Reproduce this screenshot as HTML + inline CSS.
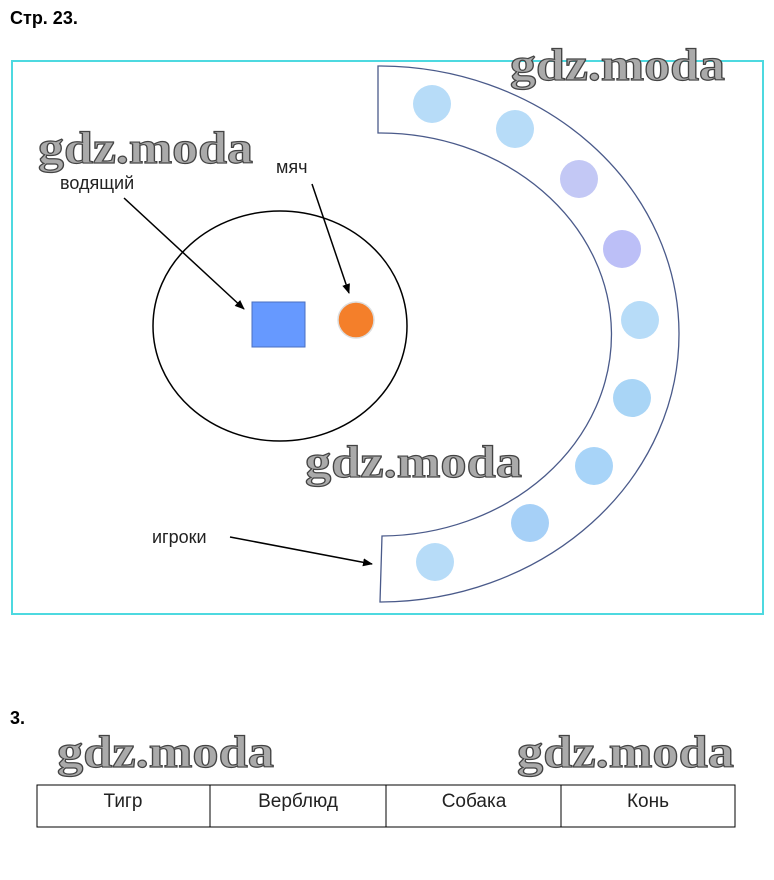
<!DOCTYPE html>
<html><head><meta charset="utf-8"><style>
body{margin:0;background:#fff;width:774px;height:875px;overflow:hidden;font-family:"Liberation Sans",sans-serif}
.wm{font-family:"Liberation Serif",serif;font-weight:bold;font-size:46px;fill:#aaa;stroke:#444;stroke-width:1.2}
</style></head><body>
<svg width="774" height="875" xmlns="http://www.w3.org/2000/svg">
<defs><marker id="a" markerWidth="10" markerHeight="8" refX="9" refY="4" orient="auto" markerUnits="userSpaceOnUse"><path d="M0,0 L10,4 L0,8z" fill="#000"/></marker></defs>
<text x="10" y="24" font-size="18" font-weight="bold" fill="#000">Стр. 23.</text>
<rect x="12" y="61" width="751" height="553" fill="none" stroke="#4dd9e0" stroke-width="2"/>
<path d="M378,66 A300,268 0 0 1 380,602 L382,536 A231,201 0 0 0 378,133 Z" fill="#fff" stroke="#4a5a8a" stroke-width="1.3"/>
<g fill="#b7dcf8">
<circle cx="432" cy="104" r="19"/><circle cx="515" cy="129" r="19"/><circle cx="579" cy="179" r="19" fill="#c3c8f5"/><circle cx="622" cy="249" r="19" fill="#bcbff7"/><circle cx="640" cy="320" r="19"/><circle cx="632" cy="398" r="19" fill="#a9d5f6"/><circle cx="594" cy="466" r="19" fill="#a8d4f8"/><circle cx="530" cy="523" r="19" fill="#a6d0f7"/><circle cx="435" cy="562" r="19"/>
</g>
<ellipse cx="280" cy="326" rx="127" ry="115" fill="none" stroke="#000" stroke-width="1.5"/>
<rect x="252" y="302" width="53" height="45" fill="#6699ff" stroke="#4a6fc0"/>
<circle cx="356" cy="320" r="18" fill="#f47f2a" stroke="#ddd" stroke-width="1.5"/>
<text x="60" y="189" font-size="18" fill="#222">водящий</text>
<text x="276" y="173" font-size="18" fill="#222">мяч</text>
<text x="152" y="543" font-size="18" fill="#222">игроки</text>
<line x1="124" y1="198" x2="244" y2="309" stroke="#000" stroke-width="1.5" marker-end="url(#a)"/>
<line x1="312" y1="184" x2="349" y2="293" stroke="#000" stroke-width="1.5" marker-end="url(#a)"/>
<line x1="230" y1="537" x2="372" y2="564" stroke="#000" stroke-width="1.5" marker-end="url(#a)"/>
<text class="wm" x="38" y="163" textLength="215" lengthAdjust="spacingAndGlyphs">gdz.moda</text>
<text class="wm" x="510" y="80" textLength="215" lengthAdjust="spacingAndGlyphs">gdz.moda</text>
<text class="wm" x="305" y="477" textLength="217" lengthAdjust="spacingAndGlyphs">gdz.moda</text>
<text x="10" y="724" font-size="18" font-weight="bold" fill="#000">3.</text>
<text class="wm" x="57" y="767" textLength="217" lengthAdjust="spacingAndGlyphs">gdz.moda</text>
<text class="wm" x="517" y="767" textLength="217" lengthAdjust="spacingAndGlyphs">gdz.moda</text>
<rect x="37" y="785" width="698" height="42" fill="none" stroke="#000" stroke-width="1"/>
<line x1="210" y1="785" x2="210" y2="827" stroke="#000"/><line x1="386" y1="785" x2="386" y2="827" stroke="#000"/><line x1="561" y1="785" x2="561" y2="827" stroke="#000"/>
<g font-size="19" fill="#222" text-anchor="middle">
<text x="123" y="807">Тигр</text><text x="298" y="807">Верблюд</text><text x="474" y="807">Собака</text><text x="648" y="807">Конь</text>
</g>
</svg>
</body></html>
